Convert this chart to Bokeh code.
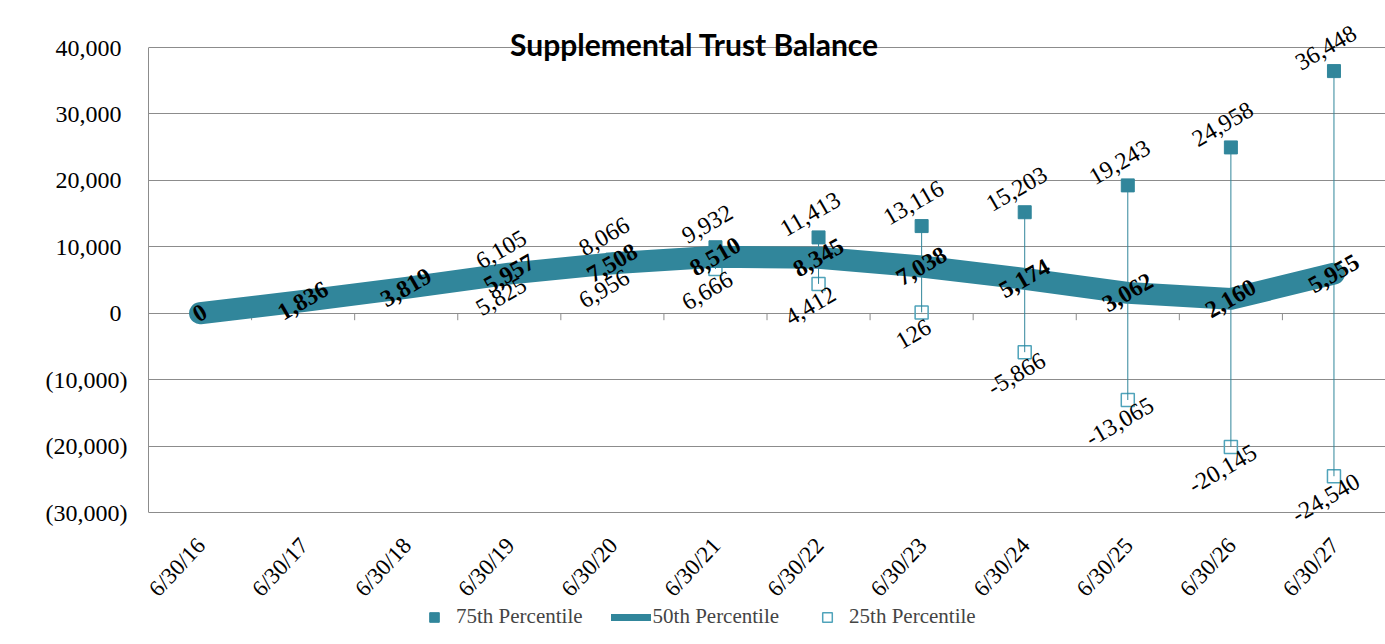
import math
from bokeh.plotting import figure
from bokeh.models import (ColumnDataSource, Range1d, FixedTicker, CustomJSTickFormatter,
                          Label, Legend, LegendItem)
from bokeh.core.properties import value
from bokeh.embed import file_html
from bokeh.resources import INLINE

# ---- data ----
dates = ["6/30/16", "6/30/17", "6/30/18", "6/30/19", "6/30/20", "6/30/21",
         "6/30/22", "6/30/23", "6/30/24", "6/30/25", "6/30/26", "6/30/27"]
p50 = [0, 1836, 3819, 5957, 7508, 8510, 8345, 7038, 5174, 3062, 2160, 5955]
p75 = [None, None, None, 6105, 8066, 9932, 11413, 13116, 15203, 19243, 24958, 36448]
p25 = [None, None, None, 5825, 6956, 6666, 4412, 126, -5866, -13065, -20145, -24540]
y_ticks = [-30000, -20000, -10000, 0, 10000, 20000, 30000, 40000]
title_text = "Supplemental Trust Balance"
legend_labels = ["75th Percentile", "50th Percentile", "25th Percentile"]

TEAL = "#31869B"
LIGHT = "#4FA3BA"
GRID = "#8C8C8C"
SERIF = "Liberation Serif"

# ---- layout constants (pixels) ----
W, H = 1385, 644
LEFT = 148
TOP_PX, BOT_PX = 47, 512        # pixel rows of the top and bottom gridlines
upp = (y_ticks[-1] - y_ticks[0]) / (BOT_PX - TOP_PX)   # data units per pixel
y_top = y_ticks[-1] + TOP_PX * upp
y_bot = y_ticks[0] - (H - BOT_PX) * upp

fmt = lambda v: "{:,}".format(v)

src50 = ColumnDataSource(dict(d=dates, v=p50, t=[fmt(v) for v in p50]))
idx = [i for i, v in enumerate(p75) if v is not None]
src_band = ColumnDataSource(dict(
    d=[dates[i] for i in idx],
    hi=[p75[i] for i in idx],
    lo=[p25[i] for i in idx],
    thi=[fmt(p75[i]) for i in idx],
    tlo=[fmt(p25[i]) for i in idx],
))
src_x = ColumnDataSource(dict(d=dates, y=[y_ticks[0]] * len(dates)))

p = figure(x_range=dates, y_range=Range1d(y_bot, y_top),
           width=W, height=H, output_backend="svg", toolbar_location=None,
           x_axis_location=None,
           min_border_left=LEFT, min_border_right=0, min_border_top=0,
           min_border_bottom=0)
p.outline_line_color = None
p.xgrid.grid_line_color = None
p.ygrid.ticker = FixedTicker(ticks=y_ticks)
p.ygrid.grid_line_color = GRID
p.ygrid.grid_line_width = 1

p.yaxis.ticker = FixedTicker(ticks=y_ticks)
p.yaxis.bounds = (y_ticks[0], y_ticks[-1])
p.yaxis.formatter = CustomJSTickFormatter(code="""
const a = Math.abs(tick).toLocaleString('en-US');
return tick < 0 ? '(' + a + ')' : a + '\\u00a0';
""")
p.yaxis.major_tick_line_color = None
p.yaxis.minor_tick_line_color = None
p.yaxis.major_tick_out = 0
p.yaxis.axis_line_color = GRID
p.yaxis.major_label_standoff = 21
p.yaxis.major_label_text_font = SERIF
p.yaxis.major_label_text_font_size = "24px"
p.yaxis.major_label_text_color = "black"

# category boundary ticks on the zero line
bounds = list(range(1, len(dates)))
p.segment(x0=bounds, y0=[0] * len(bounds), x1=bounds, y1=[-7 * upp] * len(bounds),
          line_color=GRID, line_width=1)

# category labels under the bottom gridline
p.text(x="d", y="y", text="d", source=src_x, angle=math.radians(47),
       text_align="right", text_baseline="middle", text_font=value(SERIF),
       text_font_size="23px", text_color="black", x_offset=1, y_offset=29)

# markers
r75 = p.scatter(x="d", y="hi", source=src_band, marker="square", size=13,
                fill_color=TEAL, line_color=TEAL)
r25 = p.scatter(x="d", y="lo", source=src_band, marker="square", size=13,
                fill_color=None, line_color=LIGHT, line_width=1.5)

# median band
p.line(x="d", y="v", source=src50, line_color=TEAL, line_width=22,
       line_cap="round", line_join="round")

# high-low lines
p.segment(x0="d", y0="lo", x1="d", y1="hi", source=src_band, line_color=TEAL, line_width=1)

ang = math.radians(30)
p.text(x="d", y="v", text="t", source=src50, angle=ang, text_align="center",
       text_baseline="middle", text_font=value(SERIF), text_font_style="bold",
       text_font_size="24px", text_color="black")
p.text(x="d", y="hi", text="thi", source=src_band, angle=ang, text_align="center",
       text_baseline="middle", text_font=value(SERIF), text_font_size="24px",
       text_color="black", x_offset=-8, y_offset=-23)
p.text(x="d", y="lo", text="tlo", source=src_band, angle=ang, text_align="center",
       text_baseline="middle", text_font=value(SERIF), text_font_size="24px",
       text_color="black", x_offset=-8, y_offset=22)

p.add_layout(Label(x=5.297, y=y_ticks[-1] + 4 * upp, text=title_text, text_font="Lato",
                   text_font_style="bold", text_font_size="30px",
                   text_align="center", text_baseline="alphabetic", text_color="black"))

# legend (the line entry uses a thinner stand-in renderer with no visible data)
r50_leg = p.line(x=[dates[0]], y=[float("nan")], line_color=TEAL, line_width=7,
                 line_cap="round")
legend = Legend(items=[LegendItem(label=legend_labels[0], renderers=[r75]),
                       LegendItem(label=legend_labels[1], renderers=[r50_leg]),
                       LegendItem(label=legend_labels[2], renderers=[r25])],
                orientation="horizontal", location=(266, 15),
                border_line_color=None, background_fill_alpha=0,
                label_text_font=SERIF, label_text_font_size="21px",
                glyph_width=40, glyph_height=24, label_standoff=2, spacing=28,
                padding=0, margin=0)
p.add_layout(legend, "center")

open("out.html", "w").write(file_html(p, INLINE))
